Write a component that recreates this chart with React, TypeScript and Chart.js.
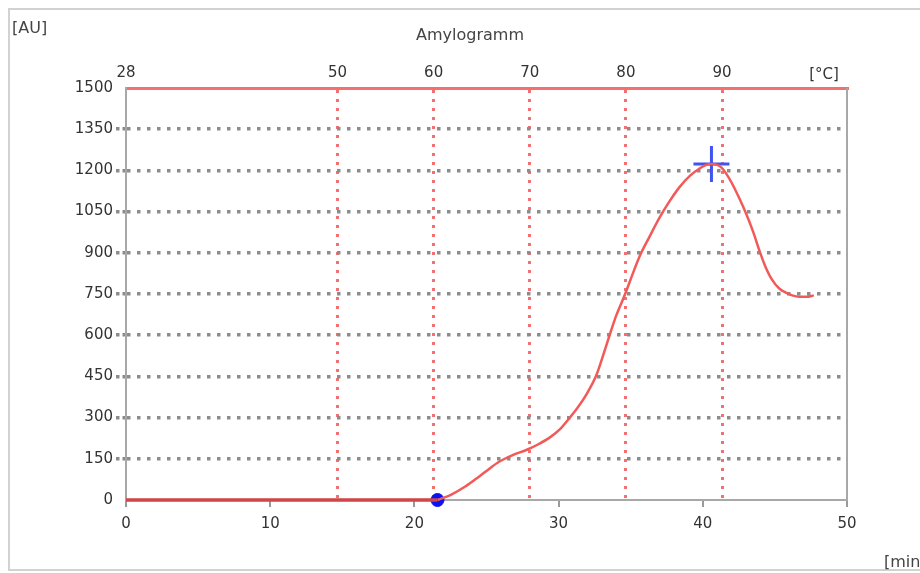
import { useEffect, useRef } from "react";
import { Chart, registerables } from "chart.js";

Chart.register(...registerables);

// Viscosity curve (time in min, viscosity in AU)
const timeMin = [
  21.6, 22.5, 23.5, 24.5, 25.2, 25.9, 26.8, 27.8, 28.6, 29.4, 30.1, 30.7, 31.3, 31.9,
  32.6, 33.2, 33.6, 34.0, 34.6, 35.1, 35.6, 36.3, 37.0, 37.7, 38.4, 39.1, 39.8, 40.2,
  40.6, 41.0, 41.3, 41.6, 42.0, 42.5, 43.0, 43.5, 43.9, 44.3, 44.8, 45.3, 45.8, 46.2,
  46.7, 47.2, 47.7,
];
const auValues = [
  0, 18, 48, 86, 114, 140, 163, 183, 203, 228, 258, 295, 335, 382,
  452, 545, 610, 672, 748, 818, 885, 958, 1028, 1088, 1140, 1180, 1208, 1219,
  1223, 1220, 1210, 1190, 1155, 1102, 1043, 975, 912, 855, 802, 770, 754, 745,
  740, 740, 745,
];
// Flat part before gelatinisation
const baselineTime = [0, 21.6];
const baselineAU = [0, 0];
// Markers
const onsetTime = [21.6];
const onsetAU = [0];
const peakTime = [40.6];
const peakAU = [1223];

// Axes
const timeMax = 50;
const timeStep = 10;
const auMax = 1500;
const auStep = 150;
const tempStart = 28;
const heatingRate = 1.5; // °C per min
const tempTicks = [28, 50, 60, 70, 80, 90];

const FONT = "DejaVu Sans";

const decor = {
  id: "decor",
  beforeDraw(chart: any) {
    const { ctx } = chart;
    ctx.save();
    ctx.fillStyle = "#ffffff";
    ctx.fillRect(0, 0, chart.width, chart.height);
    ctx.strokeStyle = "#d2d2d2";
    ctx.lineWidth = 2;
    ctx.strokeRect(9, 9, 960, 561);
    ctx.restore();
  },
  afterDraw(chart: any) {
    const { ctx, chartArea } = chart;
    ctx.save();
    // right border
    ctx.strokeStyle = "#a8a8a8";
    ctx.lineWidth = 2;
    ctx.beginPath();
    ctx.moveTo(chartArea.right, chartArea.top);
    ctx.lineTo(chartArea.right, chartArea.bottom + 1);
    ctx.stroke();
    ctx.fillStyle = "#444";
    ctx.textBaseline = "middle";
    ctx.font = `16px ${FONT}`;
    ctx.textAlign = "left";
    ctx.fillText("[AU]", 12, 29);
    ctx.fillText("[min", 884, 563);
    ctx.font = `15px ${FONT}`;
    ctx.fillStyle = "#333";
    ctx.textAlign = "center";
    ctx.fillText("[°C]", 824, 75);
    ctx.font = `16px ${FONT}`;
    ctx.fillStyle = "#444";
    ctx.fillText("Amylogramm", 470, 36);
    ctx.restore();
  },
};

export default function App() {
  const ref = useRef<HTMLCanvasElement | null>(null);

  useEffect(() => {
    if (!ref.current) return;
    const curve = timeMin.map((t, i) => ({ x: t, y: auValues[i] }));
    const base = baselineTime.map((t, i) => ({ x: t, y: baselineAU[i] }));
    const onset = onsetTime.map((t, i) => ({ x: t, y: onsetAU[i] }));
    const peak = peakTime.map((t, i) => ({ x: t, y: peakAU[i] }));

    const chart = new Chart(ref.current, {
      type: "line",
      data: {
        datasets: [
          {
            data: base,
            borderColor: "#d04545",
            borderWidth: 3.5,
            pointRadius: 0,
            xAxisID: "x",
            yAxisID: "y",
          },
          {
            data: curve,
            borderColor: "#f25a5a",
            borderWidth: 2.5,
            pointRadius: 0,
            cubicInterpolationMode: "monotone",
            xAxisID: "x",
            yAxisID: "y",
          },
          {
            data: onset,
            showLine: false,
            pointRadius: 6.5,
            pointBackgroundColor: "#0a14f0",
            pointBorderColor: "#0a14f0",
            xAxisID: "x",
            yAxisID: "y",
          },
          {
            data: peak,
            showLine: false,
            pointStyle: "cross",
            pointRadius: 18,
            pointBorderWidth: 3,
            pointBorderColor: "#4254f0",
            xAxisID: "x",
            yAxisID: "y",
          },
        ],
      },
      options: {
        responsive: false,
        animation: false,
        events: [],
        clip: false as any,
        layout: { padding: { left: 0, right: 73, top: 0, bottom: 0 } },
        plugins: {
          legend: { display: false },
          tooltip: { enabled: false },
          title: { display: false },
        },
        scales: {
          x: {
            type: "linear",
            position: "bottom",
            min: 0,
            max: timeMax,
            afterFit: (s: any) => {
              s.height = 73;
            },
            ticks: {
              stepSize: timeStep,
              color: "#333",
              font: { family: FONT, size: 15 },
              padding: 8,
              maxRotation: 0,
            },
            grid: {
              drawOnChartArea: false,
              tickLength: 7,
              tickColor: "#9a9a9a",
              lineWidth: 2,
            },
            border: { display: true, color: "#a8a8a8", width: 2 },
          },
          xT: {
            type: "linear",
            position: "top",
            min: tempStart,
            max: tempStart + heatingRate * timeMax,
            afterFit: (s: any) => {
              s.height = 88;
            },
            afterBuildTicks: (s: any) => {
              s.ticks = tempTicks.map((v) => ({ value: v }));
            },
            ticks: {
              color: "#333",
              font: { family: FONT, size: 15 },
              padding: 6,
              maxRotation: 0,
              autoSkip: false,
            },
            grid: {
              drawTicks: false,
              color: (c: any) =>
                c.tick && c.tick.value === tempStart ? "rgba(0,0,0,0)" : "#f27070",
              lineWidth: 3,
            },
            border: { display: true, color: "#f27070", width: 3, dash: [3, 6] } as any,
          },
          y: {
            type: "linear",
            position: "left",
            min: 0,
            max: auMax,
            afterFit: (s: any) => {
              s.width = 126;
            },
            ticks: {
              stepSize: auStep,
              color: "#333",
              font: { family: FONT, size: 15 },
              padding: 3,
              callback: (v: any) => String(v),
            },
            grid: {
              color: (c: any) =>
                c.tick && (c.tick.value === 0 || c.tick.value === auMax)
                  ? "rgba(0,0,0,0)"
                  : "#8c8c8c",
              tickColor: (c: any) =>
                c.tick && (c.tick.value === 0 || c.tick.value === auMax)
                  ? "rgba(0,0,0,0)"
                  : "#8c8c8c",
              lineWidth: 3.5,
              tickLength: 10,
              tickBorderDash: [3.5, 3],
            } as any,
            border: { display: true, color: "#a8a8a8", width: 2, dash: [3.5, 6.5] } as any,
          },
        },
      },
      plugins: [decor],
    });
    return () => chart.destroy();
  }, []);

  return (
    <div style={{ position: "fixed", left: 0, top: 0, width: 920, height: 573 }}>
      <canvas ref={ref} width={920} height={573} />
    </div>
  );
}
